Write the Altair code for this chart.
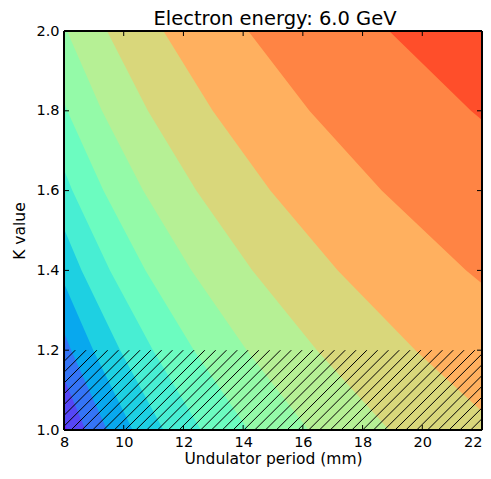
import altair as alt
import pandas as pd
import numpy as np

# ---- data ----
title_text = "Electron energy: 6.0 GeV"
x_ticks = [8, 10, 12, 14, 16, 18, 20, 22]
y_ticks = [1.0, 1.2, 1.4, 1.6, 1.8, 2.0]

# K values at which the contour boundaries were read
K_samples = [1.0, 1.2, 1.4, 1.6, 1.8, 2.0]

# contour levels (photon energy, keV) and boundary positions (undulator period, mm)
levels = [6, 8, 10, 12, 14, 16, 18, 20, 22, 24, 26, 28]
boundary_06 = [37.78, 32.94, 28.62, 24.85, 21.63, 18.89]
boundary_08 = [28.33, 24.71, 21.47, 18.64, 16.22, 14.17]
boundary_10 = [22.67, 19.77, 17.17, 14.91, 12.98, 11.33]
boundary_12 = [18.89, 16.47, 14.31, 12.43, 10.81, 9.44]
boundary_14 = [16.19, 14.12, 12.27, 10.65, 9.27, 8.10]
boundary_16 = [14.17, 12.35, 10.73, 9.32, 8.11, 7.08]
boundary_18 = [12.59, 10.98, 9.54, 8.28, 7.21, 6.30]
boundary_20 = [11.33, 9.88, 8.59, 7.46, 6.49, 5.67]
boundary_22 = [10.30, 8.98, 7.81, 6.78, 5.90, 5.15]
boundary_24 = [9.44, 8.24, 7.16, 6.21, 5.41, 4.72]
boundary_26 = [8.72, 7.60, 6.60, 5.74, 4.99, 4.36]
boundary_28 = [8.10, 7.06, 6.13, 5.33, 4.63, 4.05]
boundaries = [boundary_06, boundary_08, boundary_10, boundary_12, boundary_14,
              boundary_16, boundary_18, boundary_20, boundary_22, boundary_24,
              boundary_26, boundary_28]

# hatched (excluded) region
hatch_K_min, hatch_K_max = 1.0, 1.2

# ---- styles ----
base_color = "#ff4e2a"  # E below the first level
band_colors = ["#ff8444", "#ffb05f", "#d9d77b", "#b6f095", "#94faa8", "#6cfcc0",
               "#48eed3", "#1ed0e2", "#08a8ee", "#3474f6", "#5646f6", "#7a10ff"]

W, H = 418, 399
FONT = "DejaVu Sans"
xs = alt.Scale(domain=[8, 22], nice=False, zero=False)
ys = alt.Scale(domain=[1, 2], nice=False, zero=False)

x_axis = alt.Axis(title="Undulator period (mm)", values=x_ticks, format="d",
                  ticks=False, domain=False, grid=False, labelPadding=5,
                  labelFlush=False,
                  labelAlign=alt.ExprRef(expr="datum.value >= 22 ? 'right' : 'center'"),
                  labelFontSize=14.5, titleFontSize=15.5, titlePadding=3,
                  labelColor="black", titleColor="black", titleFontWeight="normal",
                  labelFont=FONT, titleFont=FONT)
y_axis = alt.Axis(title="K value", values=y_ticks, format=".1f",
                  ticks=False, domain=False, grid=False, labelPadding=5,
                  labelFontSize=14.5, titleFontSize=15.5, titlePadding=8,
                  labelColor="black", titleColor="black", titleFontWeight="normal",
                  labelFont=FONT, titleFont=FONT)

xt = pd.DataFrame({"t": x_ticks})
yt = pd.DataFrame({"t": y_ticks})

layers = []
# background: region below the lowest contour level
layers.append(alt.Chart(xt).mark_rect(color=base_color).encode(
    x=alt.value(0), x2=alt.value(W), y=alt.value(0), y2=alt.value(H)))

for lev, bnd, col in zip(levels, boundaries, band_colors):
    df = pd.DataFrame({"K": K_samples, "period": bnd, "level": lev})
    layers.append(
        alt.Chart(df).mark_area(orient="horizontal", clip=True, color=col, opacity=1)
        .encode(
            y=alt.Y("K:Q", scale=ys, axis=y_axis),
            x=alt.X("period:Q", scale=xs, axis=x_axis),
            x2=alt.value(0),
        )
    )

# hatch pattern (45 degree lines) over K in [hatch_K_min, hatch_K_max]
span = xs.domain[1] - xs.domain[0]
dx = (hatch_K_max - hatch_K_min) * H / W * span
spacing = 10.8 / W * span
phase = 18.867 - dx
u = phase + spacing * np.arange(-80, 40)
u = u[(u > xs.domain[0] - dx - spacing) & (u < xs.domain[1] + spacing)]
hatch_df = pd.DataFrame({"xa": u, "xb": u + dx,
                         "ya": hatch_K_min, "yb": hatch_K_max})
hatch = alt.Chart(hatch_df).mark_rule(clip=True, color="black", strokeWidth=1).encode(
    x=alt.X("xa:Q", scale=xs, axis=x_axis),
    x2="xb:Q",
    y=alt.Y("ya:Q", scale=ys, axis=y_axis),
    y2="yb:Q",
)
layers.append(hatch)

# inward tick marks on all four sides
tl = 5
for y0, y1 in [(H, H - tl), (0, tl)]:
    layers.append(alt.Chart(xt).mark_rule(color="black", strokeWidth=1).encode(
        x=alt.X("t:Q", scale=xs, axis=x_axis), y=alt.value(y0), y2=alt.value(y1)))
for x0, x1 in [(0, tl), (W, W - tl)]:
    layers.append(alt.Chart(yt).mark_rule(color="black", strokeWidth=1).encode(
        y=alt.Y("t:Q", scale=ys, axis=y_axis), x=alt.value(x0), x2=alt.value(x1)))

# frame
layers.append(alt.Chart(xt).mark_rect(filled=False, stroke="black", strokeWidth=1).encode(
    x=alt.value(0), x2=alt.value(W), y=alt.value(0), y2=alt.value(H)))

# title as text
title_df = pd.DataFrame({"label": [title_text]})
layers.append(alt.Chart(title_df).mark_text(
    fontSize=19.5, font=FONT, color="black", align="center", baseline="top").encode(
    text="label:N", x=alt.value(W / 2 + 2), y=alt.value(-21)))

chart = (
    alt.layer(*layers)
    .properties(
        width=W, height=H,
        padding={"left": 56, "top": 23, "right": 1, "bottom": 41},
        autosize=alt.AutoSizeParams(type="none"),
    )
    .configure_view(stroke=None)
    .configure(font=FONT)
)

chart.save("out.html", embed_options={"renderer": "svg", "actions": False})
